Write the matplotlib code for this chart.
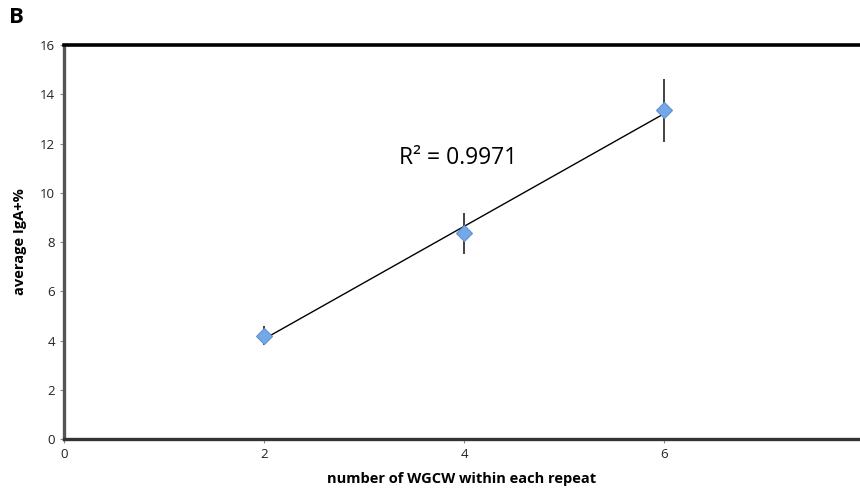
import numpy as np
import matplotlib
matplotlib.use("Agg")
import matplotlib.pyplot as plt

plt.rcParams['font.family'] = ['Open Sans', 'DejaVu Sans']

# Average IgA+ percentage by number of WGCW motifs per repeat
wgcw_count = [2, 4, 6]
iga_mean = [4.2, 8.35, 13.35]
iga_err = [0.4, 0.83, 1.28]
x_ticks = [0, 2, 4, 6]
y_ticks = [0, 2, 4, 6, 8, 10, 12, 14, 16]

fig = plt.figure(figsize=(8.6, 4.94), dpi=100)
ax = fig.add_axes([0.0744, 0.1113, 0.9256, 0.7976])

# Linear trend line and its R²
x = np.array(wgcw_count, dtype=float)
y = np.array(iga_mean, dtype=float)
slope, intercept = np.polyfit(x, y, 1)
pred = slope * x + intercept
r2 = 1 - np.sum((y - pred) ** 2) / np.sum((y - y.mean()) ** 2)
ax.plot([x.min(), x.max()], [slope * x.min() + intercept, slope * x.max() + intercept],
        color='black', lw=1.0, zorder=2)

ax.errorbar(x, y, yerr=iga_err, fmt='none', ecolor='#222222', elinewidth=1.2,
            capsize=0, zorder=1)
ax.plot(x, y, linestyle='none', marker='D', markersize=8,
        markerfacecolor='#74a8e6', markeredgecolor='#5f92d2', markeredgewidth=0.8, zorder=3)

ax.text(3.94, 11.42, f"R² = {r2:.4f}", fontsize=16.5, color='black', ha='center', va='center')

ax.set_xlim(0, 7.96)
ax.set_ylim(0, 16)
ax.set_xticks(x_ticks)
ax.set_yticks(y_ticks)
ax.tick_params(axis='both', labelsize=9.5, colors='#888888', labelcolor='#222222',
               length=3, width=0.8, direction='out')

ax.spines['right'].set_visible(False)
ax.spines['top'].set_linewidth(2.6)
ax.spines['top'].set_color('black')
ax.spines['bottom'].set_linewidth(2.4)
ax.spines['bottom'].set_color('#333333')
ax.spines['left'].set_linewidth(2.4)
ax.spines['left'].set_color('#555555')

ax.set_xlabel('number of WGCW within each repeat', fontsize=10.5, fontweight='bold', labelpad=8)
ax.set_ylabel('average IgA+%', fontsize=10.5, fontweight='bold', labelpad=9)

fig.text(0.011, 0.965, 'B', fontsize=16, fontweight='bold', va='center', ha='left')

fig.savefig('out.png', dpi=100)
